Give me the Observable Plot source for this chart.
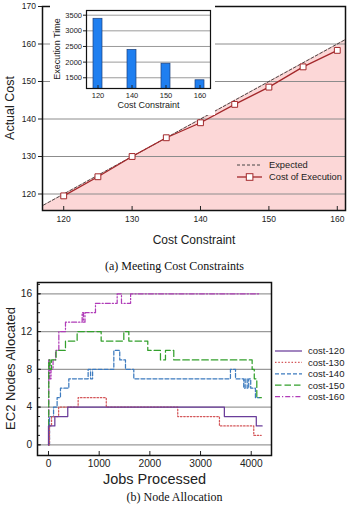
<!DOCTYPE html>
<html>
<head>
<meta charset="utf-8">
<script src="https://cdn.jsdelivr.net/npm/d3@7"></script>
<script src="https://cdn.jsdelivr.net/npm/@observablehq/plot@0.6"></script>
<style>
  html, body { margin: 0; padding: 0; background: #fff; }
  #fig { position: relative; width: 349px; height: 505px; overflow: hidden;
         font-family: "Liberation Sans", Arial, sans-serif; }
  #fig > * { position: absolute; }
  .caption { left: 0; width: 349px; text-align: center; color: #111;
             font-family: "Liberation Serif", "Times New Roman", serif; font-size: 12px; line-height: 14px; }
</style>
</head>
<body>
<div id="fig"></div>
<script>
// ---- (a) Meeting cost constraints ----
const costConstraint = [120, 125, 130, 135, 140, 145, 150, 155, 160];
const actualCost     = [119.5, 124.6, 130.0, 135.0, 139.0, 143.9, 148.5, 153.9, 158.3];
const expectedX = [110, 170];
const expectedY = [110, 170];
const costTicksX = [120, 130, 140, 150, 160];
const costTicksY = [120, 130, 140, 150, 160, 170];

// inset: execution time for each cost constraint
const insetConstraint = ["120", "140", "150", "160"];
const executionTime   = [3385, 2390, 1950, 1420];
const timeTicks = [1500, 2000, 2500, 3000, 3500];

// ---- (b) Node allocation (step series: jobs processed -> nodes) ----
const seriesNames = ["cost-120", "cost-130", "cost-140", "cost-150", "cost-160"];
const seriesColors = ["#6a3d9a", "#d4575a", "#3d7bbf", "#33a02c", "#b03cb8"];
const seriesDash = ["none", "1.5,1.8", "4,2", "6.5,3", "5,2,1.2,2"];
const jobs120  = [0, 0, 125, 380, 3470, 4100, 4215];
const nodes120 = [0, 2, 3, 4, 3, 2, 2];
const jobs130  = [0, 20, 60, 200, 585, 1140, 2550, 3373, 4050, 4196];
const nodes130 = [0, 2, 3, 4, 5, 4, 3, 2, 1, 1];
const jobs140  = [0, 20, 100, 170, 236, 401, 782, 830, 870, 1289, 1406, 1519, 1683, 3590, 3690, 3852, 3880, 3920, 3950, 3990, 4083, 4150];
const nodes140 = [0, 3, 4, 5, 6, 7, 8, 7, 8, 10, 9, 8, 7, 8, 7, 6, 7, 6, 7, 6, 5, 5];
const jobs150  = [0, 5, 30, 60, 150, 335, 565, 1039, 1486, 1585, 1959, 2209, 2308, 2472, 4018, 4060, 4110, 4200];
const nodes150 = [0, 9, 8, 9, 10, 11, 12, 11, 12, 11, 10, 9, 10, 9, 8, 7, 5, 5];
const jobs160  = [0, 5, 25, 50, 90, 140, 204, 335, 664, 690, 720, 927, 1355, 1440, 1620, 4180];
const nodes160 = [0, 9, 7, 8, 9, 10, 12, 13, 14, 13, 14, 15, 16, 15, 16, 16];
const jobTicks = [0, 1000, 2000, 3000, 4000];
const nodeTicks = [0, 4, 8, 12, 16];
const nodeMinorTicks = d3.range(0, 18);

const fig = document.getElementById("fig");
const font = "Liberation Sans, Arial, sans-serif";

// tables
const actual = costConstraint.map((c, i) => ({c, v: actualCost[i]}));
const expected = expectedX.map((x, i) => ({x, y: expectedY[i]}));
const timeData = insetConstraint.map((c, i) => ({c, t: executionTime[i]}));
const jobsAll = [jobs120, jobs130, jobs140, jobs150, jobs160];
const nodesAll = [nodes120, nodes130, nodes140, nodes150, nodes160];
const allocation = seriesNames.map((name, k) =>
  jobsAll[k].map((j, i) => ({name, jobs: j, nodes: nodesAll[k][i]})));

const red = "#a3282b";

// vertical axis title, centred on the plot frame
function yTitle(svg, text, x, size) {
  const [y0, y1] = svg.scale("y").range;
  d3.select(svg).append("text")
    .attr("transform", `translate(${x},${(y0 + y1) / 2}) rotate(-90)`)
    .attr("text-anchor", "middle").attr("dy", "0.35em")
    .attr("fill", "#222").style("font-size", size + "px")
    .text(text);
}

// main chart (a)
const plotA = Plot.plot({
  width: 349, height: 250,
  marginLeft: 42, marginRight: 4, marginTop: 6, marginBottom: 40,
  style: {fontFamily: font, fontSize: "8.5px", color: "#222", background: "transparent", overflow: "visible"},
  x: {domain: [116.9, 161.2]},
  y: {domain: [115.6, 170]},
  marks: [
    Plot.areaY(expected, {x: "x", y1: 100, y2: "y", fill: "#fcd7d7", clip: true}),
    Plot.gridY(costTicksY.slice(0, -1), {stroke: "#8c8c8c", strokeOpacity: 1}),
    Plot.line(expected, {x: "x", y: "y", stroke: "#333", strokeWidth: 0.9, strokeDasharray: "3,2", clip: true}),
    Plot.line(actual, {x: "c", y: "v", stroke: red, strokeWidth: 1.3}),
    Plot.dot(actual, {x: "c", y: "v", symbol: "square", r: 3.3, fill: "white", stroke: red, strokeWidth: 1}),
    Plot.axisX(costTicksX, {tickSize: -4, tickPadding: 9.5, label: null}),
    Plot.axisY(costTicksY, {tickSize: 4, tickPadding: 2.5, label: null}),
    Plot.text(["Cost Constraint"], {frameAnchor: "bottom", dy: 33, fontSize: 12}),
    Plot.frame({stroke: "#111", strokeWidth: 1.5})
  ]
});
plotA.style.left = "0px"; plotA.style.top = "0px";
fig.appendChild(plotA);
yTitle(plotA, "Actual Cost", 10, 12.5);

// inset bar chart
const inset = Plot.plot({
  width: 165, height: 115,
  marginLeft: 36, marginRight: 5, marginTop: 10, marginBottom: 27,
  style: {fontFamily: font, fontSize: "7.5px", color: "#222", background: "white", overflow: "visible"},
  x: {domain: insetConstraint, paddingInner: 0.75, paddingOuter: 0.15},
  y: {domain: [1157, 3650]},
  marks: [
    Plot.gridY(timeTicks, {stroke: "#9a9a9a", strokeOpacity: 1}),
    Plot.barY(timeData, {x: "c", y1: 0, y2: "t", fill: "#1f7ff0", stroke: "#1b3f7c", strokeWidth: 0.7, clip: true}),
    Plot.axisX({tickSize: -3, tickPadding: 7, label: null}),
    Plot.axisY(timeTicks, {tickSize: 3, tickPadding: 1.5, tickFormat: "d", label: null}),
    Plot.text(["Cost Constraint"], {frameAnchor: "bottom", dy: 19, fontSize: 9}),
    Plot.frame({stroke: "#111", strokeWidth: 1.2})
  ]
});
inset.style.left = "50px"; inset.style.top = "0px";
fig.appendChild(inset);
yTitle(inset, "Execution Time", 7, 9);

// legend for (a)
const legA = d3.select(fig).append("svg")
  .attr("width", 349).attr("height", 250)
  .style("left", "0px").style("top", "0px").style("pointer-events", "none")
  .style("font-family", font).style("font-size", "9.3px");
legA.append("line").attr("x1", 237).attr("x2", 262).attr("y1", 165).attr("y2", 165)
  .attr("stroke", "#333").attr("stroke-width", 0.9).attr("stroke-dasharray", "3,2");
legA.append("text").attr("x", 269).attr("y", 165).attr("dy", "0.35em").attr("fill", "#222").text("Expected");
legA.append("line").attr("x1", 237).attr("x2", 262).attr("y1", 177).attr("y2", 177)
  .attr("stroke", red).attr("stroke-width", 1.3);
legA.append("rect").attr("x", 246.3).attr("y", 173.7).attr("width", 6.6).attr("height", 6.6)
  .attr("fill", "white").attr("stroke", red);
legA.append("text").attr("x", 269).attr("y", 177).attr("dy", "0.35em").attr("fill", "#222").text("Cost of Execution");

// caption (a)
const capA = document.createElement("div");
capA.className = "caption"; capA.style.top = "259px"; capA.textContent = "(a) Meeting Cost Constraints";
fig.appendChild(capA);

// chart (b)
const lineMarks = [];
for (let k = seriesNames.length - 1; k >= 0; k--) {
  lineMarks.push(Plot.line(allocation[k], {
    x: "jobs", y: "nodes", curve: "step-after",
    stroke: seriesColors[k], strokeWidth: 1.25,
    strokeDasharray: seriesDash[k] === "none" ? null : seriesDash[k]
  }));
}
const plotB = Plot.plot({
  width: 349, height: 235,
  marginLeft: 37, marginRight: 78, marginTop: 12, marginBottom: 50,
  style: {fontFamily: font, fontSize: "10.2px", color: "#222", background: "transparent", overflow: "visible"},
  x: {domain: [-217, 4400]},
  y: {domain: [-1.13, 17.2]},
  marks: [
    Plot.gridY(nodeTicks, {stroke: "#9a9a9a", strokeOpacity: 1, strokeWidth: 1.2}),
    ...lineMarks,
    Plot.axisX(jobTicks, {tickSize: -4, tickPadding: 8.5, tickFormat: "d", label: null}),
    Plot.axisY(nodeMinorTicks, {tickSize: -3, tickFormat: () => "", label: null}),
    Plot.axisY(nodeTicks, {tickSize: -4, tickPadding: 9.3, label: null}),
    Plot.text(["Jobs Processed"], {frameAnchor: "bottom", dy: 28, fontSize: 14.5}),
    Plot.frame({stroke: "#111", strokeWidth: 1.5})
  ]
});
plotB.style.left = "0px"; plotB.style.top = "270px";
fig.appendChild(plotB);
yTitle(plotB, "EC2 Nodes Allocated", 10, 13);

// legend for (b)
const legB = d3.select(fig).append("svg")
  .attr("width", 80).attr("height", 60)
  .style("left", "270px").style("top", "343px")
  .style("font-family", font).style("font-size", "9.5px");
seriesNames.forEach((name, k) => {
  const y = 8 + k * 11.4;
  legB.append("line").attr("x1", 5).attr("x2", 32).attr("y1", y).attr("y2", y)
    .attr("stroke", seriesColors[k]).attr("stroke-width", 1.25)
    .attr("stroke-dasharray", seriesDash[k] === "none" ? null : seriesDash[k]);
  legB.append("text").attr("x", 38).attr("y", y).attr("dy", "0.35em").attr("fill", "#222").text(name);
});

// caption (b)
const capB = document.createElement("div");
capB.className = "caption"; capB.style.top = "490px"; capB.textContent = "(b) Node Allocation";
fig.appendChild(capB);
</script>
</body>
</html>
